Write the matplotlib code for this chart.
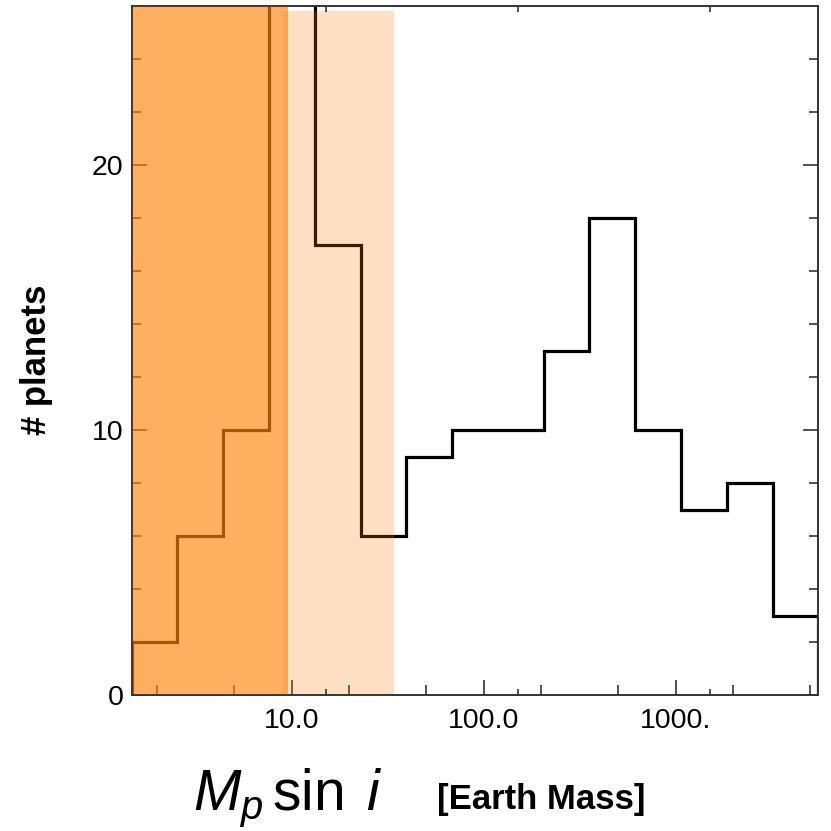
import matplotlib
matplotlib.use("Agg")
import matplotlib.pyplot as plt
from matplotlib.ticker import FixedLocator, NullFormatter, FixedFormatter

# ---- data ----
bin_edges = [1.468, 2.542, 4.401, 7.618, 13.19, 22.84, 39.55, 68.46, 118.5,
             205.3, 355.4, 615.3, 1065.0, 1845.0, 3194.0, 5530.0]
counts = [2, 6, 10, 28, 17, 6, 9, 10, 10, 13, 18, 10, 7, 8, 3]

major_xticks = [10, 100, 1000]
major_xlabels = ["10.0", "100.0", "1000."]
mid_xticks = [2, 5, 20, 50, 200, 500, 2000, 5000]
short_xticks = [15, 150, 1500]
major_yticks = [0, 10, 20]
minor_yticks = [2, 4, 6, 8, 12, 14, 16, 18, 22, 24]

dark_zone = (1.468, 9.6)
light_zone = (9.04, 34.1)
light_zone_top = 25.8
y_max = 26.0

plt.rcParams['font.family'] = ['Liberation Sans', 'DejaVu Sans']
plt.rcParams['mathtext.fontset'] = 'custom'
plt.rcParams['mathtext.rm'] = 'Liberation Sans'
plt.rcParams['mathtext.it'] = 'Liberation Sans:italic'
plt.rcParams['mathtext.bf'] = 'Liberation Sans:bold'

W = 831
fig = plt.figure(figsize=(8.31, 8.31), dpi=100)
ax = fig.add_axes([131.7 / W, 1 - 695 / W, (818.3 - 131.7) / W, (695 - 6) / W])

ax.set_xscale('log')
ax.set_xlim(bin_edges[0], bin_edges[-1])
ax.set_ylim(0, y_max)

ax.stairs(counts, bin_edges, baseline=0, color='black', lw=2.3, zorder=2)

ax.axvspan(light_zone[0], light_zone[1], ymin=0, ymax=light_zone_top / y_max,
           facecolor=(1.0, 0.47, 0.0), alpha=0.235, lw=0, zorder=3)
ax.axvspan(dark_zone[0], dark_zone[1], facecolor=(1.0, 0.52, 0.04),
           alpha=0.65, lw=0, zorder=4)

# x ticks
ax.xaxis.set_major_locator(FixedLocator(major_xticks))
ax.xaxis.set_major_formatter(FixedFormatter(major_xlabels))
ax.xaxis.set_minor_locator(FixedLocator(mid_xticks))
ax.xaxis.set_minor_formatter(NullFormatter())
ax.tick_params(axis='x', which='major', direction='in', length=10.5, width=1.1,
               top=True, bottom=True, labelsize=20.5, pad=9, color='#222222')
ax.tick_params(axis='x', which='minor', direction='in', length=7, width=1.1,
               top=True, bottom=True, color='#222222')

# y ticks
ax.yaxis.set_major_locator(FixedLocator(major_yticks))
ax.yaxis.set_minor_locator(FixedLocator(minor_yticks))
ax.tick_params(axis='y', which='major', direction='in', length=10.5, width=1.1,
               left=True, right=True, labelsize=20.5, pad=6, color='#222222')
ax.tick_params(axis='y', which='minor', direction='in', length=6.5, width=1.1,
               left=True, right=True, color='#222222')

# short x ticks via twin axis
ax2 = ax.twiny()
ax2.set_xscale('log')
ax2.set_xlim(ax.get_xlim())
ax2.xaxis.set_major_locator(FixedLocator(short_xticks))
ax2.xaxis.set_major_formatter(NullFormatter())
ax2.xaxis.set_minor_locator(FixedLocator([]))
ax2.tick_params(axis='x', which='major', direction='in', length=4.3, width=1.1,
                top=True, bottom=True, labeltop=False, labelbottom=False,
                color='#222222')
for a in (ax, ax2):
    for s in a.spines.values():
        s.set_color('#333333')
        s.set_linewidth(1.2)
ax2.patch.set_visible(False)

for s in ax.spines.values():
    s.set_zorder(2.6)

ax.set_ylabel('# planets', fontsize=25, fontweight='bold')
ax.yaxis.label.set_va('center')
ax.yaxis.set_label_coords(-(131.7 - 37) / (818.3 - 131.7), 0.487)

fig.text(193 / W, 1 - 810 / W, r'$M_p\,\mathrm{sin}\;\,i$', fontsize=41,
         ha='left', va='baseline')
fig.text(437 / W, 1 - 809 / W, '[Earth Mass]', fontsize=25, fontweight='bold',
         ha='left', va='baseline')

fig.savefig('out.png', dpi=100)
